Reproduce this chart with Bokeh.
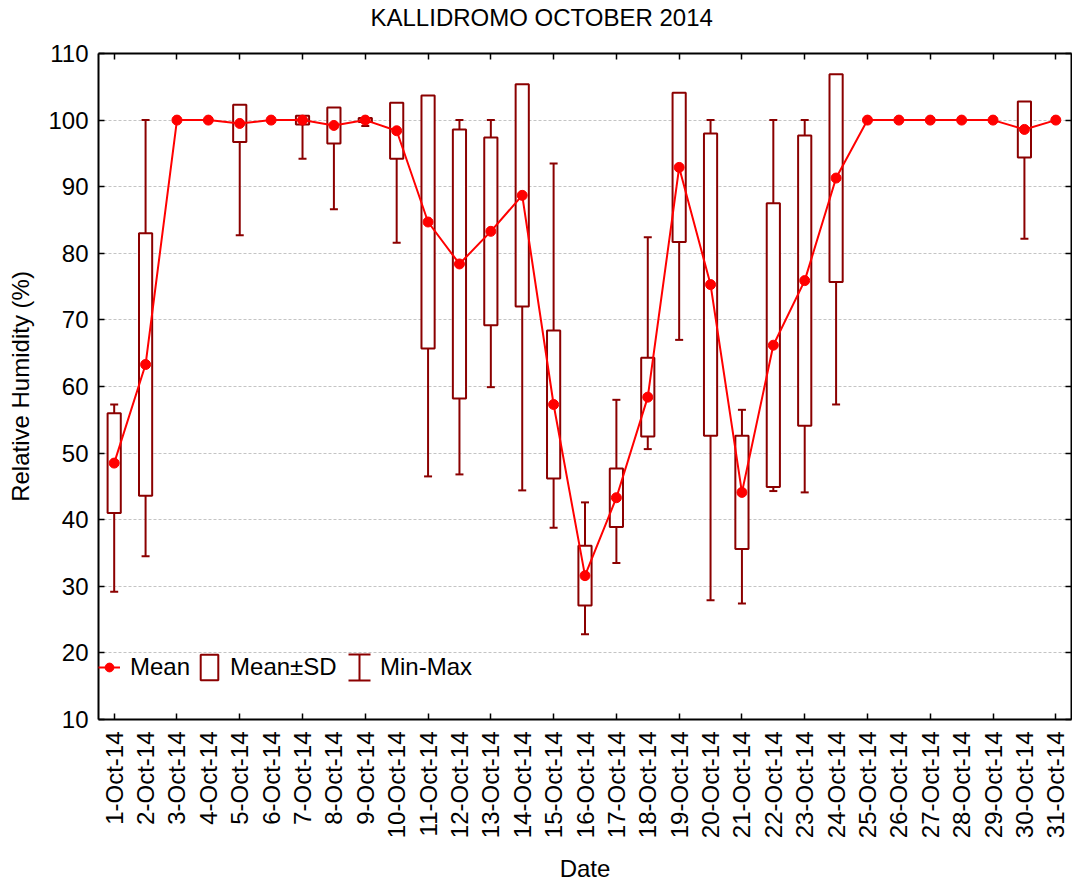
import math
from bokeh.plotting import figure
from bokeh.models import (ColumnDataSource, Range1d, LinearAxis, FixedTicker, Legend,
                          LegendItem, Arrow, TeeHead)
from bokeh.embed import file_html
from bokeh.resources import INLINE

# ---------------- data ----------------
days = list(range(1, 32))
day_labels = [f"{d}-Oct-14" for d in days]
mean = [48.5, 63.3, 100.0, 100.0, 99.5, 100.0, 100.0, 99.2, 100.0, 98.4,
        84.7, 78.4, 83.3, 88.7, 57.3, 31.6, 43.3, 58.4, 92.9, 75.3,
        44.1, 66.2, 75.9, 91.3, 100.0, 100.0, 100.0, 100.0, 100.0, 98.6, 100.0]
sd = [7.5, 19.7, 0.0, 0.0, 2.8, 0.0, 0.65, 2.7, 0.3, 4.2,
      19.0, 20.2, 14.1, 16.7, 11.1, 4.5, 4.4, 5.9, 11.2, 22.7,
      8.5, 21.3, 21.8, 15.6, 0.0, 0.0, 0.0, 0.0, 0.0, 4.2, 0.0]
vmin = [29.2, 34.5, 100, 100, 82.7, 100, 94.2, 86.6, 99.1, 81.6,
        46.5, 46.8, 59.9, 44.4, 38.8, 22.8, 33.5, 50.6, 67.0, 27.9,
        27.4, 44.3, 44.1, 57.3, 100, 100, 100, 100, 100, 82.2, 100]
vmax = [57.3, 100, 100, 100, 100, 100, 100, 100, 100, 100,
        100, 100, 100, 100, 93.5, 42.6, 58.0, 82.4, 100, 100,
        56.5, 100, 100, 100, 100, 100, 100, 100, 100, 100, 100]
y_ticks = [10, 20, 30, 40, 50, 60, 70, 80, 90, 100, 110]

# ---------------- styles ----------------
FONT = "Liberation Sans"
DARK = "#8b0000"
RED = "#ff0000"
FS = "24px"

src = ColumnDataSource(dict(day=days, mean=mean, vmin=vmin, vmax=vmax))
keep = [i for i in range(len(days)) if sd[i] > 0]
box_src = ColumnDataSource(dict(
    day=[days[i] for i in keep],
    top=[mean[i] + sd[i] for i in keep],
    bottom=[mean[i] - sd[i] for i in keep],
))

p = figure(width=1072, height=885, output_backend="svg", toolbar_location=None,
           x_range=Range1d(0.5, 31.5), y_range=Range1d(10, 110),
           min_border_left=98, min_border_right=1, min_border_top=53, min_border_bottom=166)
p.background_fill_color = "white"
p.border_fill_color = "white"
p.outline_line_color = None

p.title.text = "KALLIDROMO OCTOBER 2014"
p.title.align = "left"
p.title.offset = 272
p.title.standoff = 2
p.title.text_font = FONT
p.title.text_font_size = FS
p.title.text_font_style = "normal"
p.title.text_color = "black"
try:
    p.title.padding = dict(left=0, right=0, top=0, bottom=22)
except Exception:
    pass

# whiskers (min-max)
p.segment(x0="day", y0="vmin", x1="day", y1="vmax", source=src,
          line_color=DARK, line_width=2)
p.scatter(x="day", y="vmin", source=src, marker="dash", size=8,
          line_color=DARK, line_width=2)
p.scatter(x="day", y="vmax", source=src, marker="dash", size=8,
          line_color=DARK, line_width=2)
# boxes mean +- sd
box_r = p.vbar(x="day", width=0.42, top="top", bottom="bottom", source=box_src,
               fill_color="white", line_color=DARK, line_width=2)
# mean line and dots
line_r = p.line(x="day", y="mean", source=src, line_color=RED, line_width=2)
dot_r = p.scatter(x="day", y="mean", source=src, marker="circle", size=10,
                  fill_color=RED, line_color=RED)
dummy_r = p.scatter(x=[], y=[], marker="dash", size=1, line_alpha=0, fill_alpha=0)

# axes
xa = p.xaxis[0]
xa.ticker = FixedTicker(ticks=days, minor_ticks=days[::2])
xa.major_label_overrides = {d: l for d, l in zip(days, day_labels)}
xa.major_label_orientation = math.pi / 2
xa.major_tick_in = 0
xa.major_tick_out = 0
xa.minor_tick_in = 6
xa.minor_tick_out = 0
xa.minor_tick_line_color = "black"
xa.minor_tick_line_width = 1.5
xa.major_label_standoff = 12
xa.axis_label = "Date"
xa.axis_label_standoff = 14

ya = p.yaxis[0]
ya.ticker = FixedTicker(ticks=y_ticks)
ya.major_tick_in = 6
ya.major_tick_out = 0
ya.major_tick_line_width = 1.5
ya.minor_tick_line_color = None
ya.major_label_standoff = 10
ya.axis_label = "Relative Humidity (%)"
ya.axis_label_standoff = 11

for ax in (xa, ya):
    ax.axis_line_width = 2
    ax.axis_line_color = "black"
    ax.major_label_text_font = FONT
    ax.major_label_text_font_size = FS
    ax.major_label_text_color = "black"
    ax.axis_label_text_font = FONT
    ax.axis_label_text_font_size = FS
    ax.axis_label_text_font_style = "normal"
    ax.axis_label_text_color = "black"

# frame axes on top and right: tick marks only (as minor ticks, no labels)
top_ax = LinearAxis(ticker=FixedTicker(ticks=[], minor_ticks=days[::2]),
                    major_tick_in=0, major_tick_out=0,
                    minor_tick_in=6, minor_tick_out=0, minor_tick_line_width=1.5,
                    minor_tick_line_color="black", major_label_standoff=0,
                    axis_line_width=2)
p.add_layout(top_ax, "above")
right_ax = LinearAxis(ticker=FixedTicker(ticks=[], minor_ticks=y_ticks),
                      major_tick_in=0, major_tick_out=0,
                      minor_tick_in=6, minor_tick_out=0, minor_tick_line_width=1.5,
                      minor_tick_line_color="black", major_label_standoff=0,
                      axis_line_width=2)
p.add_layout(right_ax, "right")

p.xgrid.grid_line_color = None
p.ygrid.ticker = FixedTicker(ticks=y_ticks)
p.ygrid.grid_line_color = "#c4c4c4"
p.ygrid.grid_line_dash = "3 2"
p.ygrid.grid_line_width = 1

# legends
def make_legend(items, loc, spacing):
    return Legend(items=items, location=loc, orientation="horizontal",
                  glyph_width=22, glyph_height=32, label_standoff=10, spacing=spacing,
                  padding=0, margin=0, border_line_alpha=0, background_fill_alpha=0,
                  label_text_font=FONT, label_text_font_size=FS, label_text_color="black")

leg1 = make_legend([LegendItem(label="Mean", renderers=[line_r, dot_r]),
                    LegendItem(label="Mean±SD", renderers=[box_r])], (0, 36), 8)
leg2 = make_legend([LegendItem(label="Min-Max", renderers=[dummy_r])], (250, 36), 8)
p.add_layout(leg1)
p.add_layout(leg2)

icon = Arrow(x_start=261, y_start=39, x_end=261, y_end=65,
             start_units="screen", end_units="screen",
             line_color=DARK, line_width=2,
             start=TeeHead(size=22, line_color=DARK, line_width=2),
             end=TeeHead(size=22, line_color=DARK, line_width=2))
p.add_layout(icon)

open("out.html", "w").write(file_html(p, INLINE))
